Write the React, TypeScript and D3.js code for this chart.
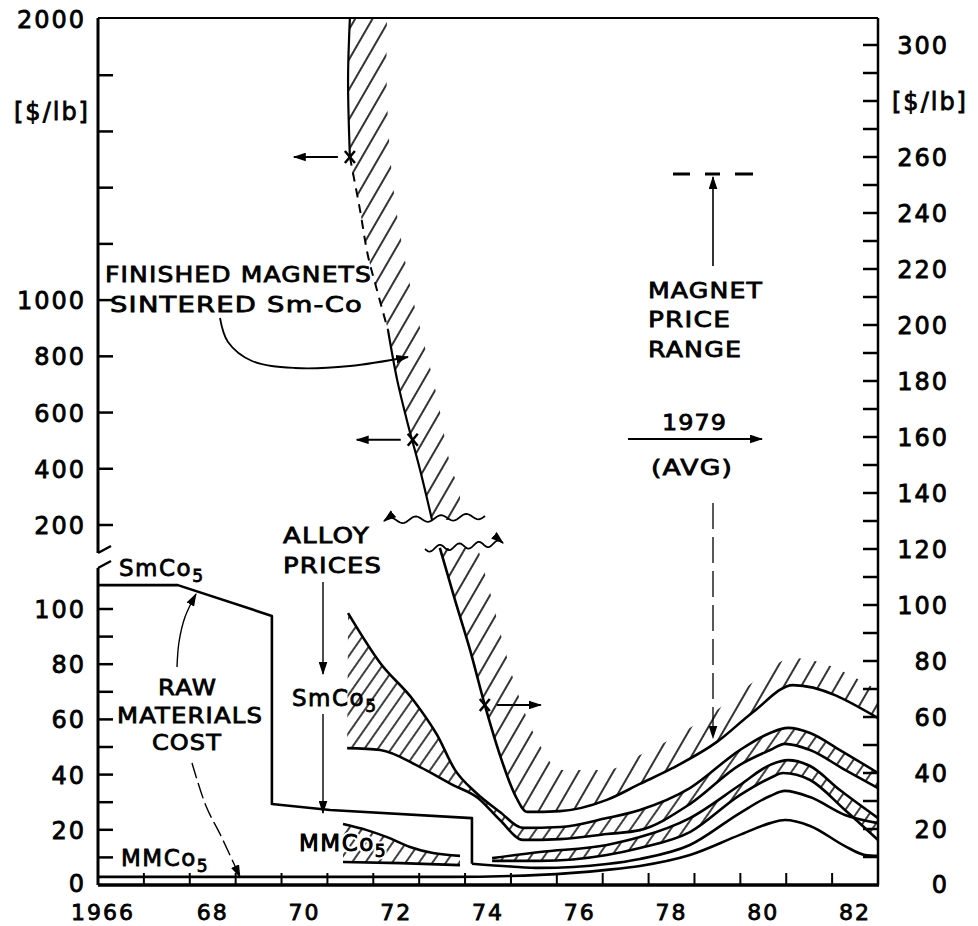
import React from "react";
import * as d3 from "d3";

type P = [number, number];

// ---------- axes ----------
const yearBoundaries = d3.range(1966.5, 1982.4, 1);
const yearLabelValues = [1966, 1968, 1970, 1972, 1974, 1976, 1978, 1980, 1982];
const yearLabelTexts = ["1966", "68", "70", "72", "74", "76", "78", "80", "82"];
const leftUpperTicks = [200, 400, 600, 800, 1000, 1200, 1400, 1600, 1800];
const leftUpperLabels = [200, 400, 600, 800, 1000, 2000];
const leftLowerTicks = [10, 20, 30, 40, 50, 60, 70, 80, 90, 100];
const leftLowerLabels = [0, 20, 40, 60, 80, 100];
const rightTicks = d3.range(10, 301, 10);
const rightLabels = [0, 20, 40, 60, 80, 100, 120, 140, 160, 180, 200, 220, 240, 260, 300];
const rightUnitAt = 280;

// ---------- series (year, $/lb read on right-hand scale) ----------
const magnetUpperEdge: P[] = [
  [1970.99, 309.6], [1970.95, 287.5], [1970.99, 260.0], [1971.21, 241.1], [1971.38, 225.0],
  [1971.58, 212.5], [1971.82, 198.2], [1972.02, 180.4], [1972.23, 166.1], [1972.52, 148.2],
  [1972.78, 130.4],
];
const magnetUpperHatch: P[] = [
  [1971.8, 309.6], [1971.8, 280.4], [1971.97, 244.6], [1972.37, 208.9], [1972.56, 196.4],
  [1972.89, 174.3], [1973.17, 150.7], [1973.39, 138.6], [1973.28, 130.4],
];
const magnetLowerEdge: P[] = [
  [1972.95, 120.4], [1973.28, 101.8], [1973.61, 83.9], [1973.93, 64.3], [1974.26, 46.4],
  [1974.59, 32.1], [1974.85, 26.1], [1975.57, 26.4], [1976.59, 30.4], [1977.31, 36.1],
  [1978.03, 41.8], [1978.99, 51.1], [1979.78, 61.8], [1980.65, 71.4], [1982.5, 59.6],
];
const magnetLowerHatch: P[] = [
  [1973.78, 120.4], [1974.09, 101.8], [1974.37, 83.9], [1974.7, 66.1], [1975.13, 50.0],
  [1975.57, 41.1], [1976.59, 41.1], [1977.31, 46.4], [1978.03, 52.5], [1978.99, 62.5],
  [1979.78, 72.5], [1980.65, 81.1], [1982.5, 69.6],
];
const smco5AlloyHigh: P[] = [
  [1970.95, 97.1], [1971.65, 79.3], [1972.37, 66.1], [1972.89, 53.6], [1973.28, 41.1],
  [1973.72, 33.2], [1974.26, 26.1], [1974.76, 20.4], [1975.57, 20.7], [1976.59, 23.9],
  [1977.31, 26.8], [1978.4, 34.6], [1979.49, 48.2], [1980.15, 54.3], [1980.54, 56.1],
  [1981.02, 54.3], [1981.67, 48.2], [1982.5, 40.0],
];
const smco5AlloyLow: P[] = [
  [1970.93, 48.9], [1971.65, 48.2], [1972.52, 42.1], [1973.24, 35.7], [1973.78, 31.1],
  [1974.26, 23.2], [1974.76, 16.1], [1975.57, 16.4], [1976.59, 18.2], [1977.31, 19.6],
  [1978.4, 28.9], [1979.49, 42.9], [1980.15, 48.2], [1980.47, 50.4], [1981.02, 48.2],
  [1981.78, 41.1], [1982.5, 34.6],
];
const mmco5AlloyHigh: P[] = [
  [1970.84, 21.8], [1971.36, 19.6], [1971.8, 17.1], [1972.3, 13.6], [1972.8, 11.4], [1973.39, 10.4],
];
const mmco5AlloyLow: P[] = [[1970.84, 8.2], [1972.1, 7.8], [1973.39, 7.1]];
const mmco5AlloyLateHigh: P[] = [
  [1974.09, 9.6], [1975.13, 11.8], [1976.59, 14.3], [1977.31, 17.1], [1978.4, 23.9],
  [1979.49, 35.7], [1980.15, 42.9], [1980.54, 44.6], [1981.02, 42.5], [1981.67, 33.9], [1982.5, 23.9],
];
const mmco5AlloyLateLow: P[] = [
  [1974.09, 8.6], [1975.13, 8.6], [1976.59, 10.7], [1977.31, 13.2], [1978.4, 18.9],
  [1979.49, 32.1], [1980.15, 38.2], [1980.43, 40.0], [1981.02, 37.5], [1981.78, 26.8], [1982.5, 16.1],
];
const smco5RawEarly: P[] = [
  [1965.5, 107.1], [1967.24, 107.1], [1969.29, 96.1], [1969.29, 28.9], [1970.56, 26.8],
  [1973.65, 23.9], [1973.65, 7.6],
];
const smco5RawLate: P[] = [
  [1973.65, 7.6], [1974.5, 6.6], [1975.13, 6.1], [1976.59, 7.5], [1977.31, 9.3], [1978.4, 14.3],
  [1979.49, 25.7], [1980.15, 31.8], [1980.47, 33.6], [1981.02, 31.4], [1981.78, 25.0], [1982.5, 22.1],
];
const mmco5Raw: P[] = [
  [1965.5, 2.9], [1973.17, 2.9], [1975.13, 3.6], [1976.59, 5.4], [1977.31, 6.8], [1978.4, 10.7],
  [1979.49, 17.9], [1980.15, 22.1], [1980.47, 23.2], [1981.02, 21.1], [1981.78, 13.9],
  [1982.22, 10.7], [1982.5, 10.4],
];
const crossMarks: P[] = [[1970.99, 260.0], [1972.36, 159.0], [1973.93, 64.3]];
const crossArrowDir = [-1, -1, 1];

const FONT = "'DejaVu Sans', sans-serif";

export default function App() {
  const x = d3.scaleLinear().domain([1965.5, 1982.5]).range([98, 878]);
  const yR = d3.scaleLinear().domain([0, 300]).range([885, 45]);
  const yLlow = d3.scaleLinear().domain([0, 100]).range([885, 609]);
  const yLup = d3.scaleLinear().domain([200, 2000]).range([525, 19]);

  const gen = (c: d3.CurveFactory) => d3.line<P>().x((d) => x(d[0])).y((d) => yR(d[1])).curve(c);
  const smooth = gen(d3.curveMonotoneX);
  const cat = gen(d3.curveCatmullRom.alpha(0.5));
  const straight = gen(d3.curveLinear);
  const band = (g: d3.Line<P>, a: P[], b: P[]) => {
    const p1 = g(a) as string;
    const p2 = g([...b].reverse()) as string;
    return p1 + "L" + p2.slice(1) + "Z";
  };
  const pix = d3.line<number[]>().curve(d3.curveCatmullRom.alpha(0.5));
  const wave = (x0: number, y0: number, x1: number, y1: number) =>
    d3.line<number[]>()(
      d3.range(0, 1.0001, 0.02).map((t) => [x0 + (x1 - x0) * t, y0 + (y1 - y0) * t + 3 * Math.sin(t * Math.PI * 8)])
    ) as string;

  const xL = x.range()[0];
  const xRt = x.range()[1];
  const yBot = yR(0);
  const yTop = 18;

  const txt = { fontFamily: FONT, fill: "#000", stroke: "#000", strokeWidth: 0.8 } as const;
  const tick = { ...txt, fontSize: 24, letterSpacing: "2px" } as const;
  const ann = { ...txt, fontSize: 22, letterSpacing: "1px" } as const;

  const lw = 2.6;

  return (
    <svg width={978} height={926} style={{ position: "absolute", left: 0, top: 0, background: "#fff" }}>
      <defs>
        <pattern id="hatch" width="15" height="15" patternUnits="userSpaceOnUse" patternTransform="rotate(30)">
          <line x1="2" y1="0" x2="2" y2="15" stroke="#000" strokeWidth="1.6" />
        </pattern>
        <pattern id="hatch2" width="11" height="11" patternUnits="userSpaceOnUse" patternTransform="rotate(35)">
          <line x1="2" y1="0" x2="2" y2="11" stroke="#000" strokeWidth="1.5" />
        </pattern>
        <marker id="ah" viewBox="0 0 12 8" refX="11" refY="4" markerWidth="13" markerHeight="9"
          markerUnits="userSpaceOnUse" orient="auto">
          <path d="M0,0 L12,4 L0,8 Z" fill="#000" />
        </marker>
      </defs>
      <rect x={0} y={0} width={978} height={926} fill="#fff" />

      {/* hatched bands */}
      <path d={band(cat, magnetUpperEdge, magnetUpperHatch)} fill="url(#hatch)" />
      <path d={band(smooth, magnetLowerEdge, magnetLowerHatch)} fill="url(#hatch)" />
      <path d={band(smooth, smco5AlloyHigh, smco5AlloyLow)} fill="url(#hatch2)" />
      <path d={band(smooth, mmco5AlloyHigh, mmco5AlloyLow)} fill="url(#hatch2)" />
      <path d={band(smooth, mmco5AlloyLateHigh, mmco5AlloyLateLow)} fill="url(#hatch2)" />

      {/* curves */}
      <g fill="none" stroke="#000" strokeLinejoin="round">
        <path d={cat(magnetUpperEdge.slice(0, 3)) as string} strokeWidth={2.2} />
        <path d={cat(magnetUpperEdge.slice(2, 7)) as string} strokeWidth={2} strokeDasharray="9 7" />
        <path d={cat(magnetUpperEdge.slice(6)) as string} strokeWidth={2.2} />
        <path d={smooth(magnetLowerEdge) as string} strokeWidth={lw} />
        <path d={smooth(smco5AlloyHigh) as string} strokeWidth={lw} />
        <path d={smooth(smco5AlloyLow) as string} strokeWidth={lw} />
        <path d={smooth(mmco5AlloyHigh) as string} strokeWidth={lw} />
        <path d={smooth(mmco5AlloyLow) as string} strokeWidth={lw} />
        <path d={smooth(mmco5AlloyLateHigh) as string} strokeWidth={lw} />
        <path d={smooth(mmco5AlloyLateLow) as string} strokeWidth={lw} />
        <path d={straight(smco5RawEarly) as string} strokeWidth={lw} />
        <path d={smooth(smco5RawLate) as string} strokeWidth={lw} />
        <path d={smooth(mmco5Raw) as string} strokeWidth={lw} />
      </g>

      {/* cross marks with arrows */}
      {crossMarks.map((d, i) => {
        const cx = x(d[0]);
        const cy = yR(d[1]);
        const dir = crossArrowDir[i];
        return (
          <g key={i} stroke="#000" fill="none">
            <line x1={cx - 5} y1={cy - 6} x2={cx + 5} y2={cy + 6} strokeWidth={2.5} />
            <line x1={cx + 5} y1={cy - 6} x2={cx - 5} y2={cy + 6} strokeWidth={2.5} />
            <line x1={cx + dir * 12} y1={cy} x2={cx + dir * 56} y2={cy} strokeWidth={2} markerEnd="url(#ah)" />
          </g>
        );
      })}

      {/* axes */}
      <g stroke="#000" fill="none">
        <line x1={xL} y1={yTop} x2={xRt} y2={yTop} strokeWidth={2} />
        <line x1={xL} y1={yBot} x2={xRt + 1} y2={yBot} strokeWidth={3.5} />
        <line x1={xRt} y1={yTop} x2={xRt} y2={yBot} strokeWidth={2.5} />
        <line x1={xL} y1={yTop} x2={xL} y2={553} strokeWidth={3} />
        <line x1={xL} y1={568} x2={xL} y2={yBot} strokeWidth={3} />
        <line x1={xL} y1={553} x2={xL + 13} y2={546} strokeWidth={2.5} />
        <line x1={xL} y1={568} x2={xL + 13} y2={561} strokeWidth={2.5} />
        {yearBoundaries.map((t) => (
          <line key={t} x1={x(t)} y1={yBot} x2={x(t)} y2={yBot - 12} strokeWidth={2} />
        ))}
        {leftUpperTicks.map((t) => (
          <line key={"lu" + t} x1={xL} y1={yLup(t)} x2={xL + 15} y2={yLup(t)} strokeWidth={2.5} />
        ))}
        {leftLowerTicks.map((t) => (
          <line key={"ll" + t} x1={xL} y1={yLlow(t)} x2={xL + 15} y2={yLlow(t)} strokeWidth={2.5} />
        ))}
        {rightTicks.map((t) => (
          <line key={"r" + t} x1={xRt} y1={yR(t)} x2={xRt - 15} y2={yR(t)} strokeWidth={2.5} />
        ))}
      </g>

      {/* tick labels */}
      {leftUpperLabels.map((t) => (
        <text key={"lul" + t} x={86} y={yLup(t) + 9} textAnchor="end" {...tick}>{t}</text>
      ))}
      {leftLowerLabels.map((t) => (
        <text key={"lll" + t} x={86} y={t === 0 ? yLlow(t) + 7 : yLlow(t) + 9} textAnchor="end" {...tick}>{t}</text>
      ))}
      {rightLabels.map((t) => (
        <text key={"rl" + t} x={949} y={t === 0 ? yR(t) + 8 : yR(t) + 9} textAnchor="end" {...tick}>{t}</text>
      ))}
      <text x={892} y={yR(rightUnitAt) + 9} {...tick}>[$/lb]</text>
      <text x={14} y={120} {...tick}>[$/lb]</text>
      {yearLabelValues.map((v, i) => (
        <text key={"x" + v} x={i === 0 ? x(v) + 14 : x(v)} y={920} textAnchor={i === 0 ? "end" : "middle"}
          {...tick} fontSize={22}>
          {yearLabelTexts[i]}
        </text>
      ))}

      {/* annotations */}
      <text x={105} y={282} {...ann} textLength={267} lengthAdjust="spacingAndGlyphs">FINISHED MAGNETS</text>
      <text x={110} y={312} {...ann} textLength={253} lengthAdjust="spacingAndGlyphs">SINTERED Sm-Co</text>
      <path d={pix([[220, 318], [228, 342], [252, 361], [295, 368], [350, 366], [408, 357]]) as string}
        fill="none" stroke="#000" strokeWidth={1.8} markerEnd="url(#ah)" />

      <text x={648} y={298} {...ann} textLength={115} lengthAdjust="spacingAndGlyphs">MAGNET</text>
      <text x={648} y={327} {...ann} textLength={83} lengthAdjust="spacingAndGlyphs">PRICE</text>
      <text x={648} y={357} {...ann} textLength={94} lengthAdjust="spacingAndGlyphs">RANGE</text>
      <line x1={713} y1={266} x2={713} y2={177} stroke="#000" strokeWidth={1.6} markerEnd="url(#ah)" />
      <line x1={673} y1={174} x2={753} y2={174} stroke="#000" strokeWidth={3} strokeDasharray="17 15 15 15 18" />
      <text x={662} y={430} {...ann} textLength={65} lengthAdjust="spacingAndGlyphs">1979</text>
      <line x1={628} y1={439} x2={762} y2={439} stroke="#000" strokeWidth={2} markerEnd="url(#ah)" />
      <text x={651} y={475} {...ann} textLength={82} lengthAdjust="spacingAndGlyphs">(AVG)</text>
      <line x1={713} y1={503} x2={713} y2={738} stroke="#000" strokeWidth={1.3} strokeDasharray="26 8" markerEnd="url(#ah)" />

      <path d={wave(485, 516, 384, 521)} fill="none" stroke="#000" strokeWidth={1.8} markerEnd="url(#ah)" />
      <path d={wave(425, 549, 503, 543)} fill="none" stroke="#000" strokeWidth={1.8} markerEnd="url(#ah)" />

      <text x={283} y={543} {...ann} textLength={87} lengthAdjust="spacingAndGlyphs">ALLOY</text>
      <text x={283} y={573} {...ann} textLength={99} lengthAdjust="spacingAndGlyphs">PRICES</text>
      <line x1={323} y1={582} x2={323} y2={674} stroke="#000" strokeWidth={1.4} markerEnd="url(#ah)" />
      <text x={292} y={706} {...ann} letterSpacing="1.5px" fontSize={23}>
        SmCo<tspan fontSize={17} dy={6}>5</tspan>
      </text>
      <line x1={323} y1={714} x2={323} y2={813} stroke="#000" strokeWidth={1.4} markerEnd="url(#ah)" />
      <text x={299} y={851} {...ann} letterSpacing="1.5px" fontSize={23} stroke="#fff" strokeWidth={5}
        style={{ paintOrder: "stroke" }}>
        MMCo<tspan fontSize={17} dy={6}>5</tspan>
      </text>
      <text x={299} y={851} {...ann} letterSpacing="1.5px" fontSize={23}>
        MMCo<tspan fontSize={17} dy={6}>5</tspan>
      </text>

      <text x={119} y={576} {...ann} letterSpacing="1.5px" fontSize={23}>
        SmCo<tspan fontSize={17} dy={6}>5</tspan>
      </text>
      <text x={121} y={866} {...ann} letterSpacing="1.5px" fontSize={23}>
        MMCo<tspan fontSize={17} dy={6}>5</tspan>
      </text>
      <text x={158} y={695} {...ann} textLength={59} lengthAdjust="spacingAndGlyphs">RAW</text>
      <text x={117} y={723} {...ann} textLength={146} lengthAdjust="spacingAndGlyphs">MATERIALS</text>
      <text x={152} y={750} {...ann} textLength={70} lengthAdjust="spacingAndGlyphs">COST</text>
      <path d={pix([[177, 667], [179, 642], [185, 617], [196, 594]]) as string}
        fill="none" stroke="#000" strokeWidth={1.4} markerEnd="url(#ah)" />
      <path d={pix([[192, 763], [206, 806], [221, 836], [240, 877]]) as string}
        fill="none" stroke="#000" strokeWidth={1.4} strokeDasharray="16 5" markerEnd="url(#ah)" />
    </svg>
  );
}
